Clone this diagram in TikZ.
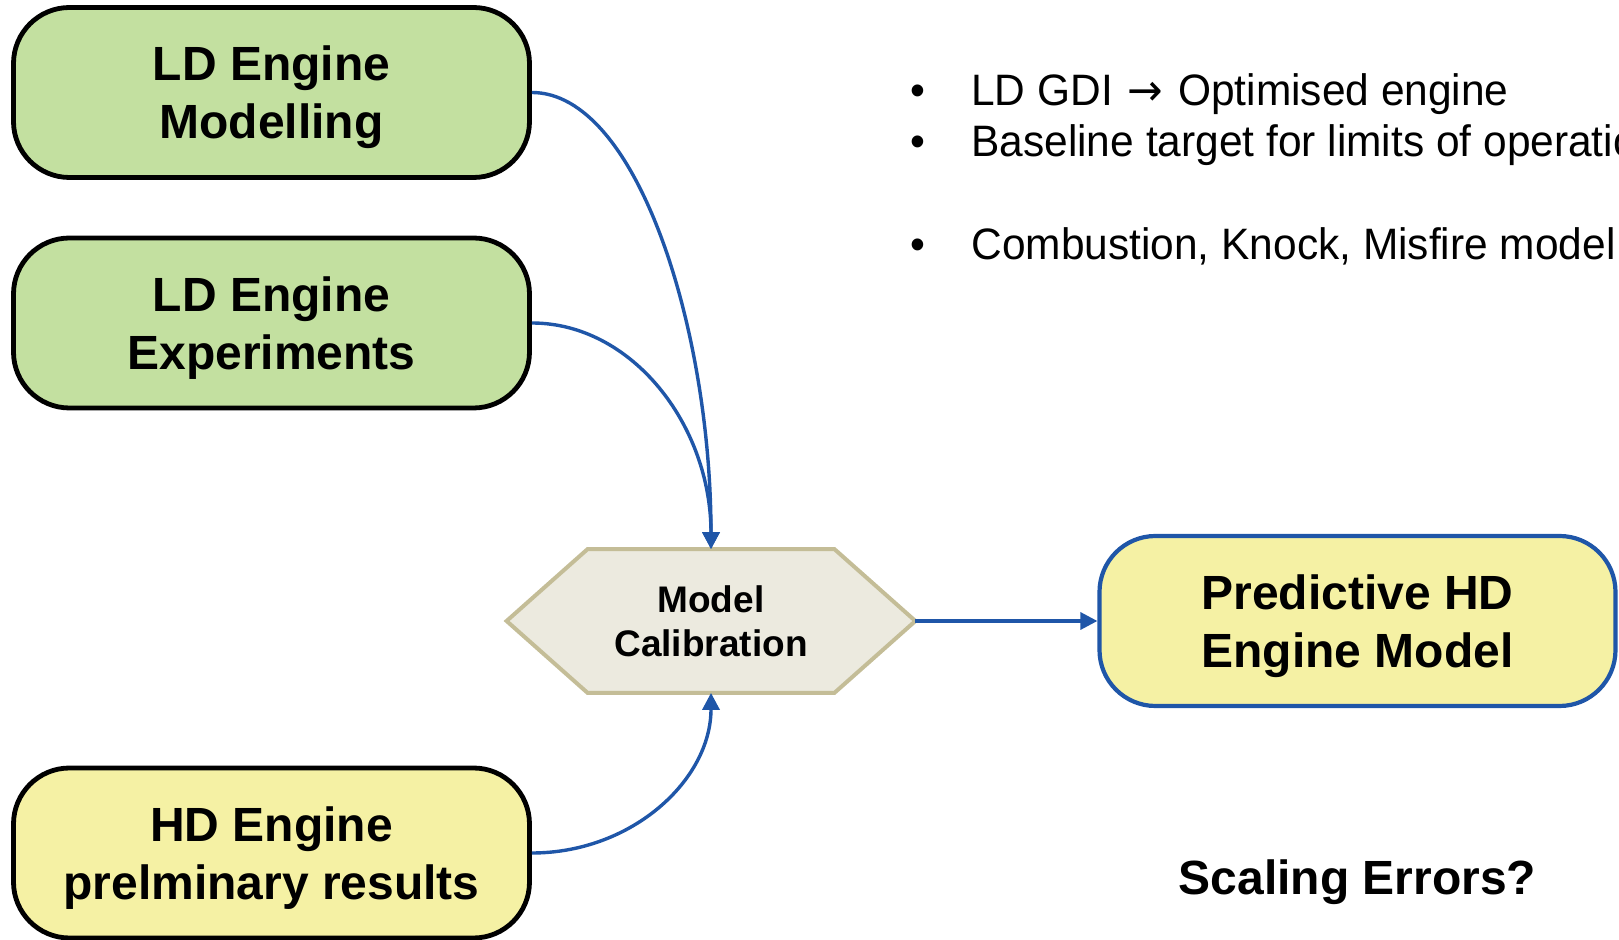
\documentclass[tikz,border=0pt]{standalone}
\usepackage{fontspec}
\setmainfont{Liberation Sans}
\newfontfamily\notefont[FakeStretch=0.965]{Liberation Sans}
\newfontfamily\arrowfont[FakeStretch=0.965]{DejaVu Sans}
\usetikzlibrary{arrows.meta,backgrounds}

\definecolor{ldgreen}{HTML}{C3E0A0}
\definecolor{hdyellow}{HTML}{F5F1A4}
\definecolor{calfill}{HTML}{ECEADF}
\definecolor{caldraw}{HTML}{C4BD97}
\definecolor{linkblue}{HTML}{1F56A8}

\tikzset{
  enginebox/.style={draw=black, line width=2.4pt, rounded corners=28pt, minimum width=258pt, minimum height=85pt, inner sep=0pt, text depth=0pt, align=center, font=\fontsize{24}{29}\selectfont\bfseries},
  ldbox/.style={enginebox, fill=ldgreen},
  hdbox/.style={enginebox, fill=hdyellow},
  predbox/.style={enginebox, draw=linkblue, line width=2.1pt, fill=hdyellow},
  calib/.style={draw=caldraw, line width=2pt, fill=calfill},
  link/.style={linkblue, line width=1.7pt, -{Triangle[length=8.5pt,width=8.5pt]}},
  point/.style={anchor=base west, inner sep=0pt, font=\notefont\fontsize{22}{26}\selectfont},
}

\begin{document}
\begin{tikzpicture}[x=0.5pt,y=0.5pt]
  \useasboundingbox (0,0) rectangle (1619,-940);
  \clip (0,0) rectangle (1619,-940);
  % inputs on the left
  \node[ldbox] (ldmod) at (271.5,-92.5) {LD Engine\\Modelling};
  \node[ldbox] (ldexp) at (271.5,-323) {LD Engine\\Experiments};
  \node[hdbox] (hdpre) at (271.5,-853) {HD Engine\\prelminary results};
  % calibration step and result
  \node[minimum width=204pt, minimum height=71.5pt, inner sep=0pt, align=center, font=\fontsize{18.5}{22}\selectfont\bfseries] (cal) at (711,-621) {Model\\Calibration};
  \begin{scope}[on background layer]
    \draw[calib] (cal.west) -- ([xshift=40.5pt]cal.north west) -- ([xshift=-40.5pt]cal.north east) -- (cal.east) -- ([xshift=-40.5pt]cal.south east) -- ([xshift=40.5pt]cal.south west) -- cycle;
  \end{scope}
  \node[predbox] (pred) at (1357.5,-621) {Predictive HD\\Engine Model};
  \node[anchor=base, inner sep=0pt, font=\fontsize{24}{29}\selectfont\bfseries] (scal) at (1357.5,-895) {Scaling Errors?};
  % notes
  \node[point] (pt1) at (910,-106) {\makebox[30.5pt][l]{•}LD GDI\hspace{1.5pt} {\arrowfont →}\hspace{1.5pt} Optimised engine};
  \node[point] (pt2) at (910,-157) {\makebox[30.5pt][l]{•}Baseline target for limits of operation};
  \node[point] (pt3) at (910,-260) {\makebox[30.5pt][l]{•}Combustion, Knock, Misfire model};
  % connectors
  \draw[link] (ldmod.east) .. controls +(105,0) and +(0,220) .. (cal.north);
  \draw[link] (ldexp.east) .. controls +(100,0) and +(0,124) .. (cal.north);
  \draw[link] (hdpre.east) .. controls +(100,0) and +(0,-87) .. (cal.south);
  \draw[link] (cal.east) -- (pred.west);
\end{tikzpicture}
\end{document}
